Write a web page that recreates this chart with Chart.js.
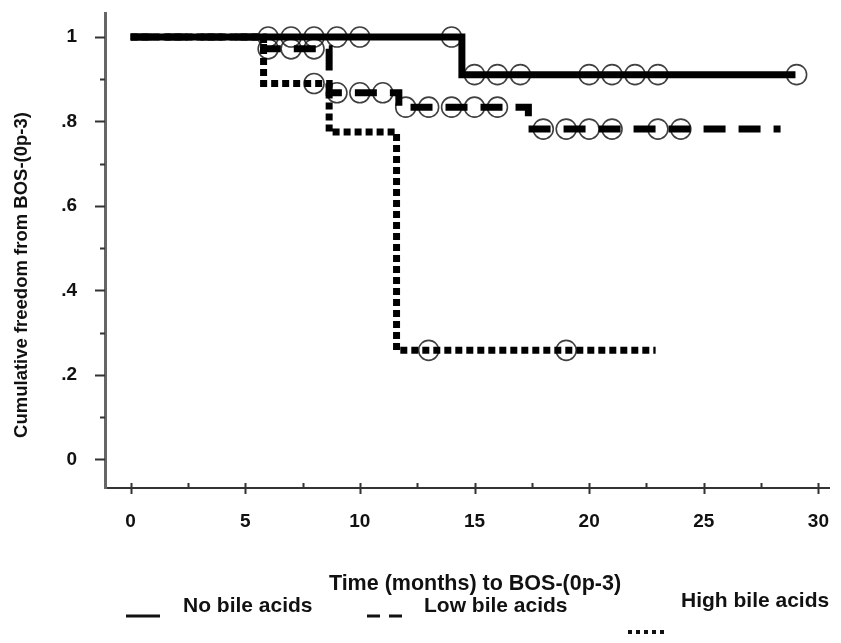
<!DOCTYPE html>
<html lang="en">
<head>
<meta charset="UTF-8">
<title>Cumulative freedom from BOS</title>
<script src="https://cdn.jsdelivr.net/npm/chart.js@4.4.1/dist/chart.umd.min.js"></script>
<style>
  body { margin: 0; background: #fff; }
</style>
</head>
<body>
<canvas id="chart" width="841" height="643"></canvas>
<script>
// Kaplan-Meier steps: time (months) and survival after each step
const noTimes = [0, 14.45, 29.0];
const noSurv = [1, 0.911, 0.911];
const lowTimes = [0, 5.8, 8.66, 11.7, 17.35, 28.35];
const lowSurv = [1, 0.972, 0.868, 0.834, 0.782, 0.782];
const highTimes = [0, 5.8, 8.66, 11.6, 22.9];
const highSurv = [1, 0.89, 0.775, 0.258, 0.258];

// censored cases (circles)
const noCensTimes = [6, 7, 8, 9, 10, 14, 15, 16, 17, 20, 21, 22, 23, 29.05];
const noCensSurv = [1, 1, 1, 1, 1, 1, 0.911, 0.911, 0.911, 0.911, 0.911, 0.911, 0.911, 0.911];
const lowCensTimes = [6, 7, 8, 9, 10, 11, 12, 13, 14, 15, 16, 18, 19, 20, 21, 23, 24];
const lowCensSurv = [0.972, 0.972, 0.972, 0.868, 0.868, 0.868, 0.834, 0.834, 0.834, 0.834, 0.834,
                     0.782, 0.782, 0.782, 0.782, 0.782, 0.782];
const highCensTimes = [8, 13, 19];
const highCensSurv = [0.89, 0.258, 0.258];

const xTicks = [0, 5, 10, 15, 20, 25, 30];
const xMinor = [2.5, 7.5, 12.5, 17.5, 22.5, 27.5];
const yTicks = [0, 0.2, 0.4, 0.6, 0.8, 1];
const yTickLabels = ['0', '.2', '.4', '.6', '.8', '1'];
const yMinor = [0.1, 0.3, 0.5, 0.7, 0.9];

const groupNames = ['No bile acids', 'Low bile acids', 'High bile acids'];
const xTitle = 'Time (months) to BOS-(0p-3)';
const yTitle = 'Cumulative freedom from BOS-(0p-3)';

const FONT = '"Liberation Sans", Arial, sans-serif';

function pts(xs, ys) {
  return xs.map((x, i) => ({ x: x, y: ys[i] }));
}

function stepLine(label, xs, ys, dash) {
  return {
    type: 'line',
    label: label,
    data: pts(xs, ys),
    stepped: true,
    borderColor: '#000',
    borderWidth: 7,
    borderDash: dash,
    borderCapStyle: 'butt',
    pointRadius: 0,
    fill: false,
    order: 0
  };
}

function censored(xs, ys) {
  return {
    type: 'scatter',
    data: pts(xs, ys),
    showLine: false,
    pointRadius: 10,
    pointBorderWidth: 1.6,
    pointBorderColor: 'rgba(30,30,30,0.85)',
    pointBackgroundColor: 'rgba(0,0,0,0)',
    order: 1
  };
}

// invisible tick space so the labels sit away from the axis
function hiddenTicks(len) {
  return {
    display: true,
    drawOnChartArea: false,
    drawTicks: true,
    tickLength: len,
    tickColor: 'rgba(0,0,0,0)'
  };
}

// tick marks, axis titles and the legend under the plot
const decor = {
  id: 'decor',
  afterDraw(chart) {
    const { ctx, chartArea: a, scales: { x, y } } = chart;
    ctx.save();
    ctx.strokeStyle = '#333';
    ctx.lineWidth = 2;
    ctx.beginPath();
    yTicks.forEach(v => {
      const py = Math.round(y.getPixelForValue(v)) + 0.5;
      ctx.moveTo(a.left - 10, py); ctx.lineTo(a.left, py);
    });
    yMinor.forEach(v => {
      const py = Math.round(y.getPixelForValue(v)) + 0.5;
      ctx.moveTo(a.left - 5, py); ctx.lineTo(a.left, py);
    });
    xTicks.forEach(v => {
      const px = Math.round(x.getPixelForValue(v)) + 0.5;
      ctx.moveTo(px, a.bottom - 5); ctx.lineTo(px, a.bottom + 6);
    });
    xMinor.forEach(v => {
      const px = Math.round(x.getPixelForValue(v)) + 0.5;
      ctx.moveTo(px, a.bottom - 5); ctx.lineTo(px, a.bottom);
    });
    ctx.stroke();

    ctx.fillStyle = '#111';
    ctx.textAlign = 'center';
    ctx.textBaseline = 'middle';
    ctx.font = 'bold 21.5px ' + FONT;
    ctx.fillText(xTitle, 475, 584);

    ctx.save();
    ctx.translate(22, 275);
    ctx.rotate(-Math.PI / 2);
    ctx.font = 'bold 18.5px ' + FONT;
    ctx.fillText(yTitle, 0, 0);
    ctx.restore();

    // legend
    ctx.font = 'bold 21px ' + FONT;
    ctx.textAlign = 'left';
    ctx.fillText(groupNames[0], 183, 606);
    ctx.fillText(groupNames[1], 424, 606);
    ctx.fillText(groupNames[2], 681, 601);

    ctx.lineCap = 'butt';
    ctx.strokeStyle = '#111';
    ctx.lineWidth = 3;
    ctx.beginPath();
    ctx.moveTo(126, 616); ctx.lineTo(160, 616);
    ctx.stroke();

    ctx.setLineDash([13, 9]);
    ctx.beginPath();
    ctx.moveTo(367, 616); ctx.lineTo(403, 616);
    ctx.stroke();

    ctx.setLineDash([4, 4]);
    ctx.lineWidth = 4;
    ctx.beginPath();
    ctx.moveTo(628, 632); ctx.lineTo(664, 632);
    ctx.stroke();
    ctx.restore();
  }
};

const ctx = document.getElementById('chart').getContext('2d');
new Chart(ctx, {
  data: {
    datasets: [
      stepLine(groupNames[0], noTimes, noSurv, []),
      stepLine(groupNames[1], lowTimes, lowSurv, [22, 13]),
      stepLine(groupNames[2], highTimes, highSurv, [7, 4]),
      censored(noCensTimes, noCensSurv),
      censored(lowCensTimes, lowCensSurv),
      censored(highCensTimes, highCensSurv)
    ]
  },
  options: {
    responsive: false,
    animation: false,
    layout: { padding: { top: 8, right: 9, left: 0, bottom: 0 } },
    plugins: { legend: { display: false }, tooltip: { enabled: false } },
    scales: {
      x: {
        type: 'linear',
        min: -1.117,
        max: 30.48,
        grid: hiddenTicks(20),
        border: { color: '#333', width: 2 },
        afterBuildTicks: s => { s.ticks = xTicks.map(v => ({ value: v })); },
        afterFit: s => { s.height = 155; },
        ticks: {
          color: '#111',
          padding: 2,
          maxRotation: 0,
          font: { family: FONT, size: 19, weight: 'bold' }
        }
      },
      y: {
        type: 'linear',
        min: -0.068,
        max: 1.056,
        grid: hiddenTicks(26),
        border: { color: '#666', width: 3 },
        afterBuildTicks: s => { s.ticks = yTicks.map(v => ({ value: v })); },
        afterFit: s => { s.width = 105; },
        ticks: {
          color: '#111',
          padding: 2,
          font: { family: FONT, size: 19, weight: 'bold' },
          callback: (v, i) => yTickLabels[i]
        }
      }
    }
  },
  plugins: [decor]
});
</script>
</body>
</html>
